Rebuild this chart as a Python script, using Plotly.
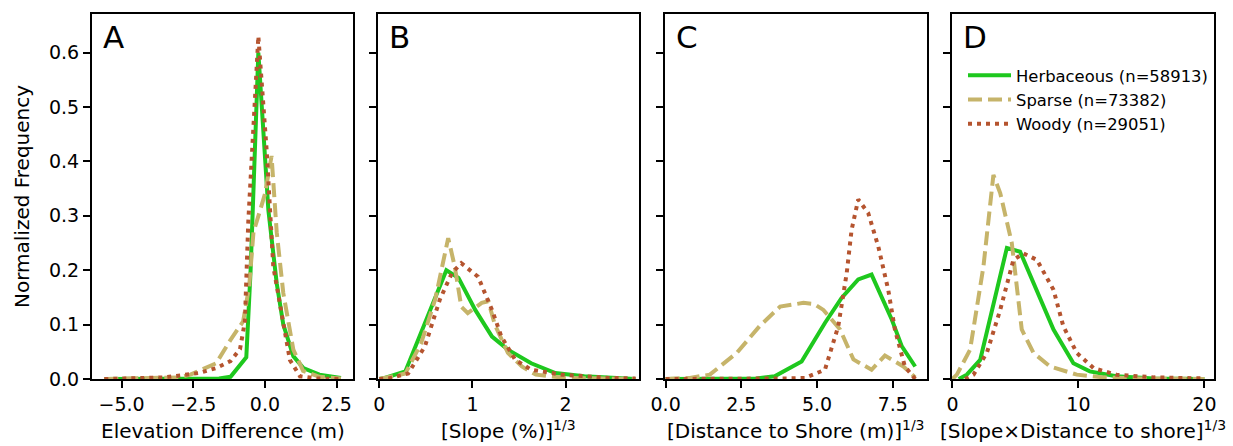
import plotly.graph_objects as go

# ---------------- data ----------------
series_names = ["Herbaceous (n=58913)", "Sparse (n=73382)", "Woody (n=29051)"]

# Panel A: Elevation Difference (m)
herb_a_x = [-5.6, -3.0, -1.6, -1.2, -0.65, -0.5, -0.23, 0.12, 0.41, 0.64, 0.99, 1.34, 1.9, 2.65]
herb_a_y = [0.0, 0.0, 0.001, 0.004, 0.04, 0.20, 0.60, 0.31, 0.176, 0.10, 0.042, 0.02, 0.008, 0.002]
sparse_a_x = [-5.6, -4.0, -3.0, -2.6, -1.7, -1.2, -0.76, -0.55, -0.4, -0.17, 0.0, 0.23, 0.41, 0.64, 0.99, 1.33, 1.9, 2.65]
sparse_a_y = [0.0, 0.001, 0.003, 0.008, 0.029, 0.072, 0.106, 0.17, 0.27, 0.31, 0.34, 0.41, 0.27, 0.158, 0.054, 0.015, 0.004, 0.001]
woody_a_x = [-5.6, -4.5, -3.5, -2.3, -1.7, -1.2, -0.87, -0.7, -0.58, -0.23, 0.06, 0.29, 0.64, 0.87, 1.22, 1.8, 2.65]
woody_a_y = [0.0, 0.001, 0.003, 0.011, 0.02, 0.033, 0.055, 0.105, 0.29, 0.63, 0.42, 0.207, 0.109, 0.035, 0.005, 0.001, 0.0]

# Panel B: [Slope (%)]^(1/3)
herb_b_x = [0.0, 0.06, 0.28, 0.45, 0.6, 0.72, 0.85, 1.03, 1.21, 1.38, 1.63, 1.89, 2.2, 2.5, 2.75]
herb_b_y = [0.0, 0.002, 0.014, 0.085, 0.152, 0.20, 0.186, 0.127, 0.078, 0.054, 0.029, 0.011, 0.005, 0.002, 0.0]
sparse_b_x = [0.0, 0.06, 0.28, 0.45, 0.6, 0.74, 0.81, 0.88, 0.95, 1.1, 1.17, 1.24, 1.38, 1.53, 1.68, 2.0, 2.75]
sparse_b_y = [0.0, 0.002, 0.01, 0.066, 0.146, 0.259, 0.207, 0.133, 0.121, 0.14, 0.143, 0.10, 0.048, 0.023, 0.008, 0.002, 0.0]
woody_b_x = [0.0, 0.1, 0.31, 0.49, 0.65, 0.78, 0.88, 1.06, 1.21, 1.31, 1.46, 1.63, 1.96, 2.46, 2.75]
woody_b_y = [0.0, 0.001, 0.01, 0.06, 0.146, 0.195, 0.213, 0.188, 0.127, 0.078, 0.035, 0.017, 0.008, 0.002, 0.001]

# Panel C: [Distance to Shore (m)]^(1/3)
herb_c_x = [0.0, 2.0, 3.0, 3.6, 4.49, 5.26, 5.81, 6.36, 6.8, 7.47, 7.8, 8.24]
herb_c_y = [0.0, 0.0, 0.001, 0.005, 0.032, 0.103, 0.149, 0.183, 0.192, 0.109, 0.06, 0.023]
sparse_c_x = [0.0, 0.8, 1.46, 2.35, 3.1, 3.78, 4.55, 4.9, 5.21, 5.76, 6.2, 6.8, 7.24, 7.85, 8.24]
sparse_c_y = [0.0, 0.002, 0.008, 0.048, 0.097, 0.133, 0.14, 0.138, 0.127, 0.091, 0.036, 0.017, 0.043, 0.023, 0.003]
woody_c_x = [0.0, 3.0, 4.0, 4.6, 5.26, 5.7, 5.98, 6.14, 6.36, 6.69, 7.02, 7.35, 7.57, 7.9, 8.24]
woody_c_y = [0.0, 0.0, 0.001, 0.002, 0.017, 0.097, 0.195, 0.274, 0.33, 0.305, 0.244, 0.164, 0.091, 0.023, 0.0]

# Panel D: [Slope x Distance to shore]^(1/3)
herb_d_x = [0.5, 1.14, 2.2, 3.25, 4.32, 5.37, 6.7, 8.02, 9.6, 10.9, 13.0, 16.0, 20.0]
herb_d_y = [0.0, 0.008, 0.035, 0.14, 0.241, 0.234, 0.164, 0.091, 0.029, 0.014, 0.005, 0.001, 0.0]
sparse_d_x = [0.0, 0.35, 1.4, 2.46, 3.25, 3.79, 4.71, 5.11, 5.5, 6.43, 7.75, 9.87, 12.0, 15.0, 20.0]
sparse_d_y = [0.0, 0.008, 0.054, 0.207, 0.375, 0.342, 0.25, 0.164, 0.091, 0.048, 0.023, 0.008, 0.003, 0.001, 0.0]
woody_d_x = [1.0, 1.67, 2.73, 3.79, 4.84, 5.64, 6.7, 8.02, 8.8, 9.87, 11.2, 13.0, 16.0, 20.0]
woody_d_y = [0.0, 0.008, 0.048, 0.127, 0.219, 0.231, 0.219, 0.164, 0.097, 0.048, 0.02, 0.008, 0.003, 0.001]

panel_letters = ["A", "B", "C", "D"]
x_titles = ["Elevation Difference (m)", "[Slope (%)]<sup>1/3</sup>",
            "[Distance to Shore (m)]<sup>1/3</sup>", "[Slope×Distance to shore]<sup>1/3</sup>"]
y_title = "Normalized Frequency"
y_ticks = [0.0, 0.1, 0.2, 0.3, 0.4, 0.5, 0.6]
x_ticks = [[-5.0, -2.5, 0.0, 2.5], [0, 1, 2], [0.0, 2.5, 5.0, 7.5], [0, 10, 20]]
x_tickformat = [".1f", "d", ".1f", "d"]

# ---------------- style ----------------
W, H = 1233, 446
FONT = "DejaVu Sans"
colors = ["#1ec81e", "#c6b46a", "#b5542f"]
dashes = ["solid", "14px,6px", "4px,5px"]
x_ranges = [[-6.03, 3.07], [-0.01, 2.79], [-0.02, 8.62], [-0.06, 20.76]]
y_range = [0, 0.671]
x_px = [(92, 353), (378.3, 639.3), (665, 926.7), (951.7, 1214)]
y_dom = [(H - 379) / H, (H - 14) / H]

panels = [
    [(herb_a_x, herb_a_y), (sparse_a_x, sparse_a_y), (woody_a_x, woody_a_y)],
    [(herb_b_x, herb_b_y), (sparse_b_x, sparse_b_y), (woody_b_x, woody_b_y)],
    [(herb_c_x, herb_c_y), (sparse_c_x, sparse_c_y), (woody_c_x, woody_c_y)],
    [(herb_d_x, herb_d_y), (sparse_d_x, sparse_d_y), (woody_d_x, woody_d_y)],
]

fig = go.Figure()
layout = dict(
    width=W, height=H,
    margin=dict(l=0, r=0, t=0, b=0, autoexpand=False),
    paper_bgcolor="white", plot_bgcolor="white",
    font=dict(family=FONT, size=19, color="black"),
    showlegend=True,
    legend=dict(x=963 / W, y=(H - 58) / H, xanchor="left", yanchor="top",
                bgcolor="rgba(0,0,0,0)", font=dict(size=16.4, family=FONT),
                tracegroupgap=0, itemwidth=43),
)
annotations = []
for i, series in enumerate(panels):
    sfx = "" if i == 0 else str(i + 1)
    for j, (xs, ys) in enumerate(series):
        fig.add_trace(go.Scatter(
            x=xs, y=ys, mode="lines", name=series_names[j],
            line=dict(color=colors[j], width=4, dash=dashes[j]),
            xaxis="x" + sfx, yaxis="y" + sfx,
            legendgroup=series_names[j], showlegend=(i == 3),
        ))
    layout["xaxis" + sfx] = dict(
        domain=[x_px[i][0] / W, x_px[i][1] / W], range=x_ranges[i],
        anchor="y" + sfx, showline=True, linecolor="black", linewidth=2, mirror=True,
        ticks="outside", ticklen=7, tickwidth=2, tickcolor="black",
        tickvals=x_ticks[i], tickformat=x_tickformat[i], showgrid=False, zeroline=False,
        tickfont=dict(size=19), automargin=False,
    )
    layout["yaxis" + sfx] = dict(
        domain=list(y_dom), range=y_range, anchor="x" + sfx,
        showline=True, linecolor="black", linewidth=2, mirror=True,
        ticks="outside", ticklen=7, tickwidth=2, tickcolor="black",
        tickvals=y_ticks, tickformat=".1f", showticklabels=(i == 0),
        showgrid=False, zeroline=False, tickfont=dict(size=19), automargin=False,
    )
    annotations.append(dict(
        text=panel_letters[i], xref="x" + sfx + " domain", yref="paper",
        x=0, y=(H - 17) / H, xanchor="left", yanchor="top", xshift=9,
        showarrow=False, font=dict(size=31, family=FONT, color="black"),
    ))
    annotations.append(dict(
        text=x_titles[i], xref="x" + sfx + " domain", yref="paper",
        x=0.5, y=0.0, xanchor="center", yanchor="bottom", yshift=1,
        showarrow=False, font=dict(size=20, family=FONT, color="black"),
    ))
annotations.append(dict(
    text=y_title, xref="paper", yref="paper", x=22 / W, y=(H - 197) / H,
    xanchor="center", yanchor="middle", textangle=-90, showarrow=False,
    font=dict(size=20, family=FONT, color="black"),
))
layout["annotations"] = annotations
fig.update_layout(**layout)
fig.write_html("out.html")
